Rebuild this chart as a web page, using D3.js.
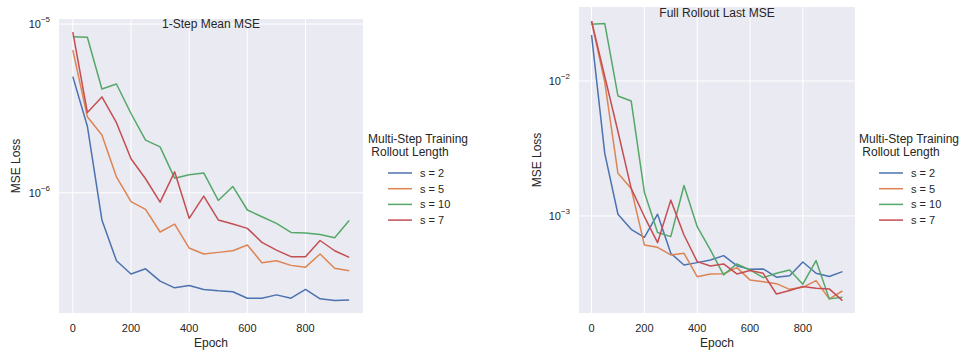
<!DOCTYPE html>
<html>
<head>
<meta charset="utf-8">
<script src="https://cdn.jsdelivr.net/npm/d3@7"></script>
<style>
body{margin:0;background:#fff;}
svg{display:block;font-family:"Liberation Sans",Arial,sans-serif;}
</style>
</head>
<body>
<svg id="chart" width="963" height="352"></svg>
<script>
const epochs = [0,50,100,150,200,250,300,350,400,450,500,550,600,650,700,750,800,850,900,950];
const seriesNames = ["s = 2","s = 5","s = 10","s = 7"];
const colors = ["#4C72B0","#DD8452","#55A868","#C44E52"];

// 1-Step Mean MSE
const left_s2  = [4.88e-6,2.48e-6,6.9e-7,3.95e-7,3.30e-7,3.54e-7,2.99e-7,2.73e-7,2.82e-7,2.67e-7,2.62e-7,2.59e-7,2.37e-7,2.37e-7,2.48e-7,2.37e-7,2.67e-7,2.35e-7,2.30e-7,2.31e-7];
const left_s5  = [7.01e-6,2.82e-6,2.20e-6,1.24e-6,8.85e-7,7.97e-7,5.85e-7,6.52e-7,4.70e-7,4.33e-7,4.43e-7,4.53e-7,4.90e-7,3.85e-7,3.95e-7,3.71e-7,3.62e-7,4.33e-7,3.57e-7,3.45e-7];
const left_s10 = [8.4e-6,8.35e-6,4.12e-6,4.41e-6,2.95e-6,2.05e-6,1.87e-6,1.22e-6,1.28e-6,1.31e-6,9.0e-7,1.09e-6,7.9e-7,7.2e-7,6.58e-7,5.82e-7,5.77e-7,5.66e-7,5.41e-7,6.85e-7];
const left_s7  = [8.97e-6,2.99e-6,3.70e-6,2.60e-6,1.59e-6,1.21e-6,8.8e-7,1.33e-6,7.05e-7,9.55e-7,6.9e-7,6.52e-7,6.15e-7,5.08e-7,4.57e-7,4.18e-7,4.18e-7,5.21e-7,4.53e-7,4.14e-7];

// Full Rollout Last MSE
const right_s2  = [2.19e-2,2.91e-3,1.03e-3,7.96e-4,6.95e-4,1.03e-3,5.29e-4,4.33e-4,4.51e-4,4.72e-4,5.08e-4,4.28e-4,4.02e-4,4.05e-4,3.52e-4,3.60e-4,4.56e-4,3.76e-4,3.56e-4,3.87e-4];
const right_s5  = [2.75e-2,9.8e-3,2.07e-3,1.60e-3,6.1e-4,5.86e-4,5.14e-4,5.29e-4,3.55e-4,3.72e-4,3.73e-4,4.14e-4,3.36e-4,3.26e-4,3.15e-4,2.86e-4,2.96e-4,3.32e-4,2.43e-4,2.78e-4];
const right_s10 = [2.63e-2,2.67e-2,7.74e-3,7.11e-3,1.50e-3,7.53e-4,7.03e-4,1.68e-3,8.33e-4,5.60e-4,3.66e-4,4.41e-4,3.98e-4,3.49e-4,3.76e-4,3.98e-4,3.12e-4,4.67e-4,2.43e-4,2.50e-4];
const right_s7  = [2.78e-2,1.08e-2,4.22e-3,1.60e-3,9.9e-4,6.34e-4,1.31e-3,7.23e-4,4.59e-4,4.26e-4,4.41e-4,3.72e-4,3.94e-4,3.76e-4,2.64e-4,2.80e-4,3.00e-4,2.91e-4,2.88e-4,2.36e-4];

const xTicks = [0,200,400,600,800];
const leftYTicks = [1e-6,1e-5];
const rightYTicks = [1e-3,1e-2];
const leftYTickExp = ["−6","−5"];
const rightYTickExp = ["−3","−2"];
const titles = ["1-Step Mean MSE","Full Rollout Last MSE"];
const legendTitle = ["Multi-Step Training"," Rollout Length"];

const svg = d3.select("#chart");
const textColor = "#262626";

function panel(cfg){
  const {x0,x1,y0,y1,yDomain,data,yTicks,yExp,title,titleY,ylabX,legX,legY} = cfg;
  const g = svg.append("g");
  const x = d3.scaleLinear().domain([-47.5,997.5]).range([x0,x1]);
  const y = d3.scaleLog().domain(yDomain).range([y1,y0]);
  g.append("rect").attr("x",x0).attr("y",y0).attr("width",x1-x0).attr("height",y1-y0).attr("fill","#EAEAF2");
  // grid
  g.selectAll(".gx").data(xTicks).enter().append("line")
    .attr("x1",d=>x(d)).attr("x2",d=>x(d)).attr("y1",y0).attr("y2",y1)
    .attr("stroke","#fff").attr("stroke-width",1);
  g.selectAll(".gy").data(yTicks).enter().append("line")
    .attr("x1",x0).attr("x2",x1).attr("y1",d=>y(d)).attr("y2",d=>y(d))
    .attr("stroke","#fff").attr("stroke-width",1);
  // x tick labels
  g.selectAll(".tx").data(xTicks).enter().append("text")
    .attr("x",d=>x(d)).attr("y",y1+19).attr("text-anchor","middle")
    .attr("font-size",11).attr("fill",textColor).text(d=>d);
  // y tick labels
  yTicks.forEach((t,i)=>{
    const tx = g.append("text").attr("x",x0-9).attr("y",y(t)+4).attr("text-anchor","end")
      .attr("font-size",11).attr("fill",textColor);
    tx.append("tspan").text("10");
    tx.append("tspan").attr("dy",-6).attr("font-size",8).text(yExp[i]);
  });
  // axis labels
  g.append("text").attr("x",(x0+x1)/2).attr("y",y1+34).attr("text-anchor","middle")
    .attr("font-size",12).attr("fill",textColor).text("Epoch");
  g.append("text").attr("transform",`translate(${ylabX},${(y0+y1)/2}) rotate(-90)`)
    .attr("text-anchor","middle").attr("font-size",12).attr("fill",textColor).text("MSE Loss");
  // title
  g.append("text").attr("x",(x0+x1)/2).attr("y",titleY).attr("text-anchor","middle")
    .attr("font-size",12).attr("fill",textColor).text(title);
  // lines
  const line = d3.line().x((d,i)=>x(epochs[i])).y(d=>y(d));
  data.forEach((s,k)=>{
    g.append("path").datum(s).attr("d",line).attr("fill","none")
      .attr("stroke",colors[k]).attr("stroke-width",1.5).attr("stroke-linejoin","round");
  });
  // legend
  const lg = g.append("g");
  lg.append("text").attr("x",legX).attr("y",legY).attr("font-size",12).attr("fill",textColor).text(legendTitle[0]);
  lg.append("text").attr("x",legX).attr("y",legY+13).attr("font-size",12).attr("fill",textColor)
    .attr("xml:space","preserve").style("white-space","pre").text(legendTitle[1]);
  seriesNames.forEach((n,k)=>{
    const yy = legY+30+k*15.7;
    lg.append("line").attr("x1",legX+20).attr("x2",legX+44).attr("y1",yy).attr("y2",yy)
      .attr("stroke",colors[k]).attr("stroke-width",1.5);
    lg.append("text").attr("x",legX+52).attr("y",yy+4).attr("font-size",11).attr("fill",textColor).text(n);
  });
}

panel({x0:59,x1:363,y0:19,y1:313,yDomain:[Math.pow(10,-6.713),Math.pow(10,-4.97)],
  data:[left_s2,left_s5,left_s10,left_s7],yTicks:leftYTicks,yExp:leftYTickExp,
  title:titles[0],titleY:28,ylabX:20,legX:368,legY:143});
panel({x0:579,x1:855,y0:7,y1:313,yDomain:[Math.pow(10,-3.719),Math.pow(10,-1.452)],
  data:[right_s2,right_s5,right_s10,right_s7],yTicks:rightYTicks,yExp:rightYTickExp,
  title:titles[1],titleY:17,ylabX:541,legX:859,legY:143});
</script>
</body>
</html>
